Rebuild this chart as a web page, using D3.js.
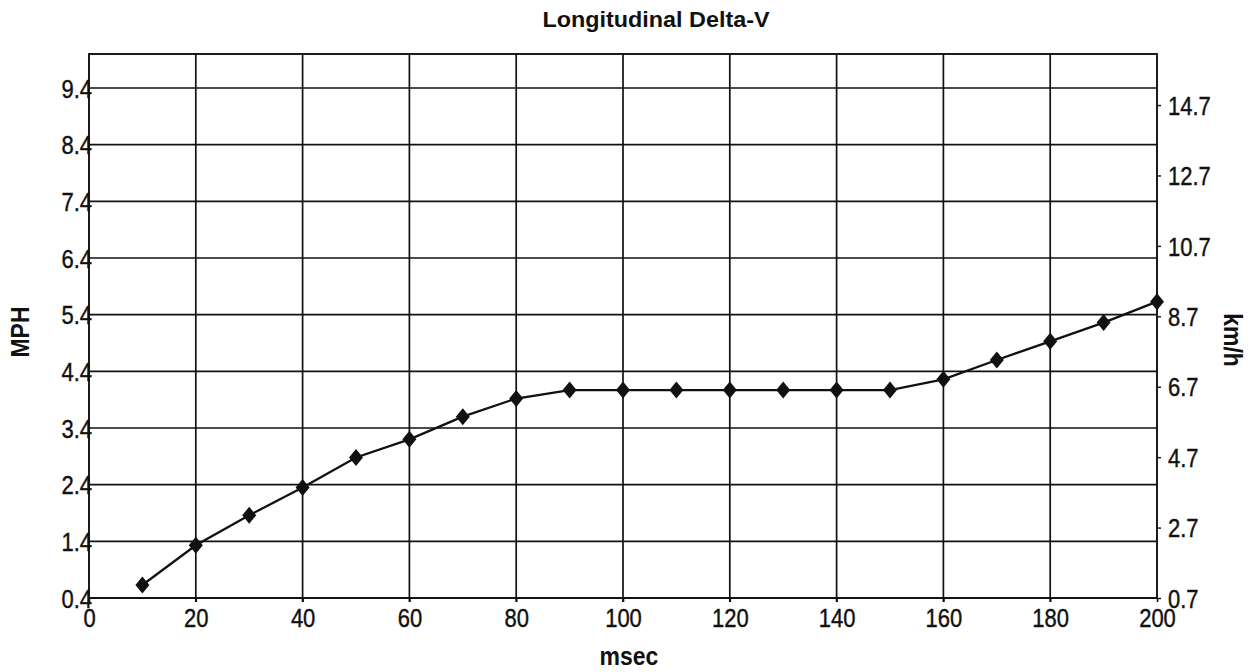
<!DOCTYPE html>
<html>
<head>
<meta charset="utf-8">
<script src="https://cdn.jsdelivr.net/npm/d3@7"></script>
<style>
  html, body { margin: 0; padding: 0; background: #fff; }
  svg { display: block; }
  text { font-family: "Liberation Sans", Arial, sans-serif; fill: #111; }
</style>
</head>
<body>
<svg id="chart" width="1251" height="672"></svg>
<script>
// ---- data ----
const timeMs = [10, 20, 30, 40, 50, 60, 70, 80, 90, 100, 110, 120, 130, 140, 150, 160, 170, 180, 190, 200];
const deltaVmph = [0.63, 1.33, 1.86, 2.35, 2.88, 3.20, 3.60, 3.92, 4.07, 4.07, 4.07, 4.07, 4.07, 4.07, 4.07, 4.26, 4.60, 4.93, 5.26, 5.63];
const xTicks = [0, 20, 40, 60, 80, 100, 120, 140, 160, 180, 200];
const mphTicks = [0.4, 1.4, 2.4, 3.4, 4.4, 5.4, 6.4, 7.4, 8.4, 9.4];
const kmhTicks = [0.7, 2.7, 4.7, 6.7, 8.7, 10.7, 12.7, 14.7];
const titleText = "Longitudinal Delta-V";
const xTitle = "msec";
const yLeftTitle = "MPH";
const yRightTitle = "km/h";

// ---- layout ----
const L = 89, R = 1157, T = 54, B = 598;
const svg = d3.select("#chart");
const ink = "#111";
const FONT = '"Liberation Sans", Arial, sans-serif';
const SY = 1.15;

const x = d3.scaleLinear().domain([0, 200]).range([L, R]);
const yL = d3.scaleLinear().domain([0.4, 10.0]).range([B, T]);
const yR = d3.scaleLinear().domain([0.7, 0.7 + 9.6 * 1.60934]).range([B, T]);

// gridlines
const grid = svg.append("g");
grid.selectAll("line.h").data(mphTicks).join("line")
  .attr("x1", L).attr("x2", R)
  .attr("y1", d => yL(d)).attr("y2", d => yL(d))
  .attr("stroke", ink).attr("stroke-width", 1.7);
grid.selectAll("line.v").data(xTicks.slice(1, -1)).join("line")
  .attr("y1", T).attr("y2", B + 4)
  .attr("x1", d => x(d)).attr("x2", d => x(d))
  .attr("stroke", ink).attr("stroke-width", 1.7);

// frame
svg.append("rect").attr("x", L).attr("y", T).attr("width", R - L).attr("height", B - T)
  .attr("fill", "none").attr("stroke", ink).attr("stroke-width", 1.9);

function styleTicks(g) {
  g.selectAll(".tick text").attr("font-size", 22)
    .attr("fill", ink).attr("stroke", ink).attr("stroke-width", 0.35)
    .style("font-family", FONT)
    .attr("transform", `scale(1,${SY})`);
}

// axes
const xAxis = d3.axisBottom(x).tickValues(xTicks).tickSize(4).tickFormat(d3.format("d"));
const gx = svg.append("g").attr("transform", `translate(0,${B})`).call(xAxis);
gx.select(".domain").remove();
gx.selectAll(".tick line").attr("stroke", ink).attr("stroke-width", 1.6);
styleTicks(gx);
gx.selectAll(".tick text").attr("y", 29 / SY).attr("dy", 0);

const yAxisL = d3.axisLeft(yL).tickValues(mphTicks).tickSize(0).tickPadding(-3).tickFormat(d3.format(".1f"));
const gyl = svg.append("g").attr("transform", `translate(${L},0)`).call(yAxisL);
gyl.select(".domain").remove();
styleTicks(gyl);
gyl.selectAll(".tick text").attr("dy", "0.36em");

const yAxisR = d3.axisRight(yR).tickValues(kmhTicks).tickSize(4).tickPadding(7).tickFormat(d3.format(".1f"));
const gyr = svg.append("g").attr("transform", `translate(${R},0)`).call(yAxisR);
gyr.select(".domain").remove();
gyr.selectAll(".tick line").attr("stroke", ink).attr("stroke-width", 1.4);
styleTicks(gyr);
gyr.selectAll(".tick text").attr("dy", "0.36em");

// series line
const pts = timeMs.map((t, i) => [t, deltaVmph[i]]);
svg.append("path").datum(pts)
  .attr("fill", "none").attr("stroke", ink).attr("stroke-width", 2.3)
  .attr("d", d3.line().x(d => x(d[0])).y(d => yL(d[1])));

// diamond markers
svg.selectAll("path.mk").data(pts).join("path")
  .attr("class", "mk")
  .attr("transform", d => `translate(${x(d[0])},${yL(d[1])})`)
  .attr("d", "M0,-8.5L7,0L0,8.5L-7,0Z")
  .attr("fill", ink);

// titles
svg.append("text").attr("x", 656).attr("y", 27).attr("text-anchor", "middle")
  .attr("font-size", 22).attr("font-weight", "bold")
  .attr("textLength", 227).attr("lengthAdjust", "spacingAndGlyphs")
  .text(titleText);
svg.append("text").attr("transform", "translate(629,665) scale(1,1.15)").attr("text-anchor", "middle")
  .attr("font-size", 23).attr("font-weight", "bold").text(xTitle);
svg.append("text").attr("transform", "translate(29,332) rotate(-90) scale(1,1.1)").attr("text-anchor", "middle")
  .attr("font-size", 23).attr("font-weight", "bold").text(yLeftTitle);
svg.append("text").attr("transform", "translate(1224,340) rotate(90) scale(1,1.1)").attr("text-anchor", "middle")
  .attr("font-size", 23).attr("font-weight", "bold").text(yRightTitle);
</script>
</body>
</html>
